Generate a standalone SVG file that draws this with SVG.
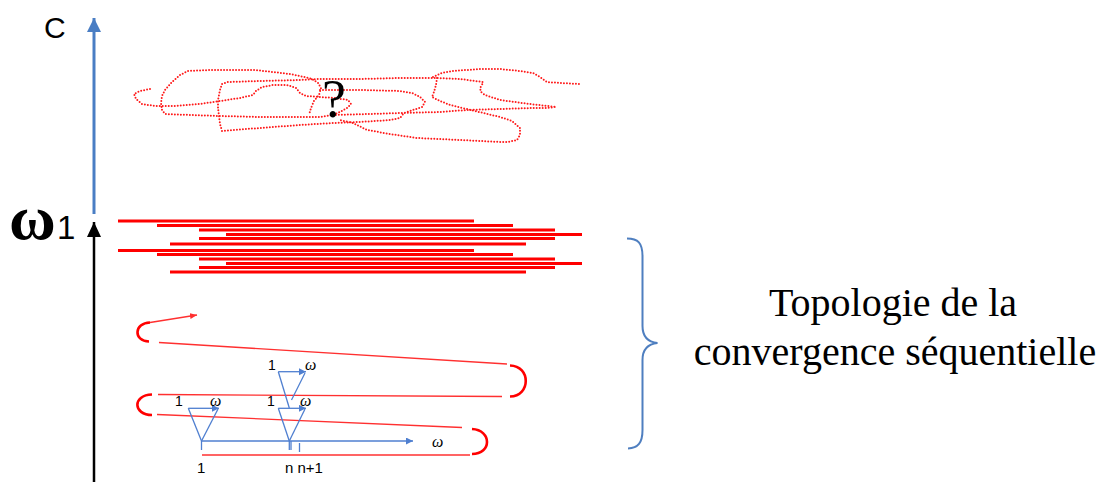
<svg xmlns="http://www.w3.org/2000/svg" width="1106" height="482" viewBox="0 0 1106 482">
  <style>
    .axis-blue { stroke: #4A7EC4; stroke-width: 3; fill: none; }
    .axis-black { stroke: #000; stroke-width: 2.5; fill: none; }
    .scribble { stroke: #FF1A1A; stroke-width: 2; fill: none; stroke-dasharray: 0 3; stroke-linecap: round; stroke-linejoin: round; }
    .band { stroke: #FF0000; stroke-width: 3; }
    .thin-red { stroke: #FF3030; stroke-width: 1.3; fill: none; }
    .turn { stroke: #FF0000; stroke-width: 2.6; fill: none; }
    .blue-thin { stroke: #4F7FD0; stroke-width: 1.3; fill: none; }
    .brace { stroke: #4F7FC0; stroke-width: 2; fill: none; }
    .sans { font-family: "Liberation Sans", Arial, sans-serif; fill: #000; }
    .serif { font-family: "Liberation Serif", "Times New Roman", serif; fill: #000; }
    .small { font-size: 14px; }
    .omega { font-family: "Liberation Serif", "Times New Roman", serif; font-style: italic; font-size: 16px; }
  </style>
  <defs>
    <marker id="head-blue" markerUnits="userSpaceOnUse" markerWidth="16" markerHeight="16" refX="14" refY="7" orient="auto">
      <path d="M0,0 L14,7 L0,14 Z" fill="#4A7EC4"/>
    </marker>
    <marker id="head-black" markerUnits="userSpaceOnUse" markerWidth="16" markerHeight="16" refX="15" refY="7" orient="auto">
      <path d="M0,0 L15,7 L0,14 Z" fill="#000"/>
    </marker>
    <marker id="head-small-blue" markerUnits="userSpaceOnUse" markerWidth="8" markerHeight="8" refX="7" refY="3.5" orient="auto">
      <path d="M0,0 L7,3.5 L0,7 Z" fill="#4F7FD0"/>
    </marker>
    <marker id="head-small-red" markerUnits="userSpaceOnUse" markerWidth="8" markerHeight="8" refX="7" refY="3" orient="auto">
      <path d="M0,0 L7,3 L0,6 Z" fill="#FF3030"/>
    </marker>
  </defs>

  <!-- vertical axis: black lower part up to omega1, blue upper part up to C -->
  <g id="axis">
    <line class="axis-black" x1="94" y1="482" x2="94" y2="222" marker-end="url(#head-black)"/>
    <line class="axis-blue" x1="94" y1="214" x2="94" y2="18" marker-end="url(#head-blue)"/>
    <text class="sans" x="44" y="38" font-size="30">C</text>
    <text class="serif" x="9" y="239" font-size="64" font-weight="bold">ω</text>
    <text class="sans" x="57" y="239" font-size="33">1</text>
  </g>

  <!-- tangled dotted region above omega1 -->
  <g id="scribble">
    <polyline class="scribble" points="150,89 140,91 134,94 136,99 142,104 155,106 175,106 200,104 220,101 240,98 253,95 256,91 262,87 273,85 287,85 296,88 300,93 306,96 320,97 335,98 348,100 351,104 347,108 340,112 333,115 320,117 300,117 260,117 220,116 190,115 165,114 162,110 161,103 162,96 165,90 172,82 180,75 188,71 210,70 233,70 255,70 273,72 290,74 300,76 312,79 318,83 321,88 319,95 314,101 311,108 309,115"/>
    <polyline class="scribble" points="320,90 360,90 400,91 412,93 420,97 425,102 422,107 413,110 404,113 400,118 390,120 360,122 333,123 300,125 260,128 233,130 222,131 220,124 219,116 218,108 218,100 220,90 222,84 228,82 260,81 300,80 317,79 360,79 400,78 437,78 460,79 483,82 482,85 480,88 481,92 485,95 500,100 530,104 556,107 545,108 533,108 500,109 467,110 440,112 400,113 370,114 333,115"/>
    <polyline class="scribble" points="437,78 436,85 434,92 432,97 440,101 450,105 475,111 500,117 512,121 520,128 520,135 517,140 508,142 500,142 460,140 417,138 390,134 367,130 353,123 340,120"/>
    <polyline class="scribble" points="433,77 442,73 453,71 480,69 500,69 520,71 533,73 540,77 547,82 560,83 580,84"/>
    <text class="serif" x="322" y="117" font-size="54">?</text>
  </g>

  <!-- dense band of parallel red segments -->
  <g id="band">
    <line class="band" x1="118" y1="221" x2="474" y2="221"/>
    <line class="band" x1="157" y1="225.5" x2="513" y2="225.5"/>
    <line class="band" x1="199" y1="230" x2="555" y2="230"/>
    <line class="band" x1="226" y1="234.5" x2="582" y2="234.5"/>
    <line class="band" x1="199" y1="238.5" x2="555" y2="238.5"/>
    <line class="band" x1="170" y1="244" x2="526" y2="244"/>
    <line class="band" x1="118" y1="250.5" x2="474" y2="250.5"/>
    <line class="band" x1="157" y1="254.5" x2="513" y2="254.5"/>
    <line class="band" x1="199" y1="259" x2="555" y2="259"/>
    <line class="band" x1="226" y1="263.5" x2="582" y2="263.5"/>
    <line class="band" x1="199" y1="267.5" x2="555" y2="267.5"/>
    <line class="band" x1="170" y1="272" x2="526" y2="272"/>
  </g>

  <!-- zig-zag sequential path with turns -->
  <g id="zigzag">
    <line class="thin-red" x1="150" y1="322.5" x2="197" y2="315" marker-end="url(#head-small-red)"/>
    <path class="turn" d="M150,322.5 C134,323 133,341 149,341.5"/>
    <line class="thin-red" x1="159" y1="342.5" x2="507" y2="364"/>
    <path class="turn" d="M510,365.5 C531,366 531,396 510,396.5"/>
    <line class="thin-red" x1="502" y1="396.5" x2="158" y2="394.5"/>
    <path class="turn" d="M152,394.5 C132,395 133,415 152,415"/>
    <line class="thin-red" x1="157" y1="414.5" x2="462" y2="427.5"/>
    <path class="turn" d="M472,429 C492,430 492,454 472,454"/>
    <line class="thin-red" x1="202" y1="455" x2="470" y2="455"/>
  </g>

  <!-- blue index line with tree triangles -->
  <g id="index-line">
    <line class="blue-thin" x1="201.5" y1="441" x2="413" y2="441" marker-end="url(#head-small-blue)"/>
    <line class="blue-thin" x1="201.5" y1="441" x2="201.5" y2="450"/>
    <line class="blue-thin" x1="289.3" y1="441" x2="289.3" y2="450"/>
    <line class="blue-thin" x1="291" y1="441" x2="291" y2="450"/>
    <line class="blue-thin" x1="299.5" y1="443" x2="299.5" y2="452"/>
    <text class="omega" x="432" y="447">ω</text>
    <text class="sans" x="197" y="473" font-size="15">1</text>
    <text class="sans" x="285" y="473" font-size="15">n n+1</text>
  </g>

  <g id="tree-1">
    <line class="blue-thin" x1="188.3" y1="408.3" x2="219" y2="408.3" marker-end="url(#head-small-blue)"/>
    <line class="blue-thin" x1="188.3" y1="408.3" x2="201.5" y2="441"/>
    <line class="blue-thin" x1="201.5" y1="441" x2="218" y2="409"/>
    <text class="sans small" x="175" y="406">1</text>
    <text class="omega" x="210" y="406">ω</text>
  </g>

  <g id="tree-n">
    <line class="blue-thin" x1="278.3" y1="408.3" x2="306" y2="408.3" marker-end="url(#head-small-blue)"/>
    <line class="blue-thin" x1="278.3" y1="408.3" x2="289.3" y2="441"/>
    <line class="blue-thin" x1="289.3" y1="441" x2="305" y2="409"/>
    <text class="sans small" x="267" y="406">1</text>
    <text class="omega" x="300" y="406">ω</text>
  </g>

  <g id="tree-n-upper">
    <line class="blue-thin" x1="278.3" y1="371.7" x2="306" y2="371.7" marker-end="url(#head-small-blue)"/>
    <line class="blue-thin" x1="278.3" y1="371.7" x2="289.3" y2="408"/>
    <line class="blue-thin" x1="291.5" y1="400" x2="305" y2="373"/>
    <text class="sans small" x="268" y="370">1</text>
    <text class="omega" x="305" y="370">ω</text>
  </g>

  <!-- brace and caption -->
  <g id="caption">
    <path class="brace" d="M627,238.5 C638,238.5 642.5,243 642.5,256 L642.5,326 C642.5,336 648,342 657.5,343 C648,344 642.5,350 642.5,360 L642.5,430 C642.5,443 638,448 628,448.5"/>
    <text class="serif" x="893" y="316" font-size="40" text-anchor="middle">Topologie de la</text>
    <text class="serif" x="895" y="365" font-size="40" text-anchor="middle">convergence séquentielle</text>
  </g>
</svg>
